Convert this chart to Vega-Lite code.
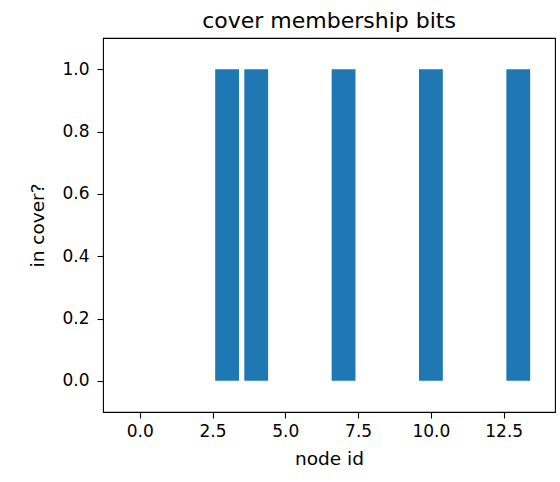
{
  "$schema": "https://vega.github.io/schema/vega-lite/v6.json",
  "title": "cover membership bits",
  "autosize": {"type": "none"},
  "padding": {"left": 103, "top": 38, "right": 5, "bottom": 70},
  "width": 452,
  "height": 374,
  "data": {
    "values": [
      {"node": 0, "bit": 0},
      {"node": 1, "bit": 0},
      {"node": 2, "bit": 0},
      {"node": 3, "bit": 1},
      {"node": 4, "bit": 1},
      {"node": 5, "bit": 0},
      {"node": 6, "bit": 0},
      {"node": 7, "bit": 1},
      {"node": 8, "bit": 0},
      {"node": 9, "bit": 0},
      {"node": 10, "bit": 1},
      {"node": 11, "bit": 0},
      {"node": 12, "bit": 0},
      {"node": 13, "bit": 1}
    ]
  },
  "mark": {"type": "bar", "width": 23.8, "color": "#1f77b4"},
  "encoding": {
    "x": {
      "field": "node",
      "type": "quantitative",
      "title": "node id",
      "scale": {"domain": [-1.09, 14.09], "nice": false, "zero": false},
      "axis": {"values": [0, 2.5, 5, 7.5, 10, 12.5], "format": ".1f", "labelPadding": 5, "titlePadding": 10}
    },
    "y": {
      "field": "bit",
      "type": "quantitative",
      "title": "in cover?",
      "scale": {"domain": [-0.1, 1.1], "nice": false, "zero": false},
      "axis": {"values": [0, 0.2, 0.4, 0.6, 0.8, 1.0], "format": ".1f", "labelPadding": 8, "titlePadding": 14}
    }
  },
  "config": {
    "font": "DejaVu Sans",
    "view": {"stroke": "#000000", "strokeWidth": 1.1},
    "title": {"fontSize": 22, "fontWeight": "normal", "color": "#000000", "offset": 5, "anchor": "middle"},
    "axis": {
      "grid": false,
      "domain": false,
      "tickColor": "#000000",
      "tickSize": 6,
      "tickWidth": 1.1,
      "labelFontSize": 17,
      "labelColor": "#000000",
      "titleFontSize": 18.5,
      "titleFontWeight": "normal",
      "titleColor": "#000000"
    }
  }
}
